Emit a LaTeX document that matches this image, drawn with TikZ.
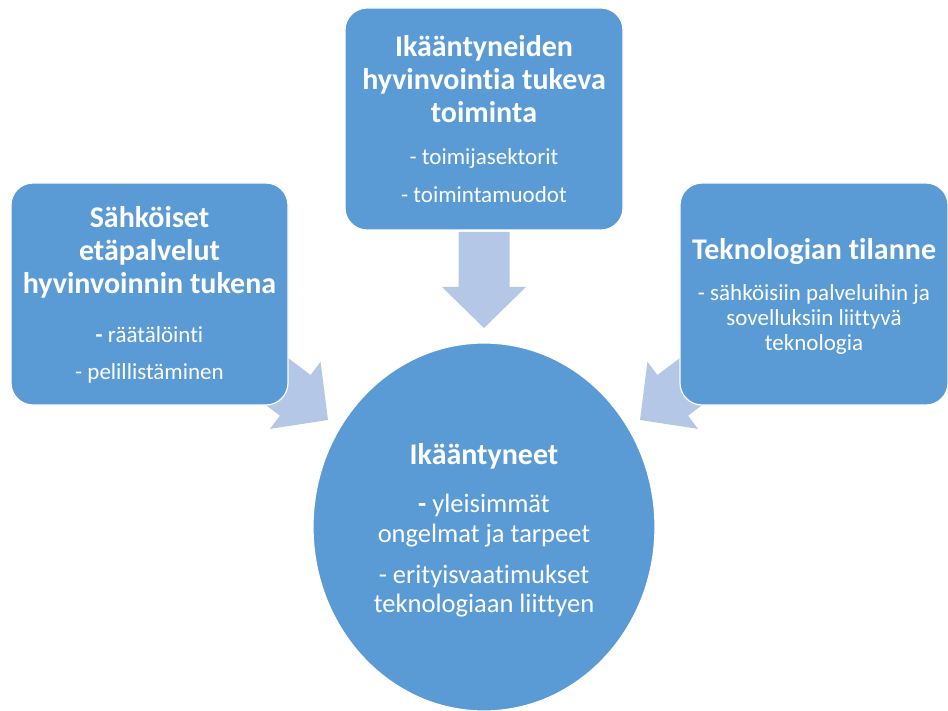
\documentclass[tikz,border=0pt]{standalone}
\usepackage{fontspec}
\setmainfont{Carlito}[Ligatures={CommonOff,ContextualOff,RareOff}, Contextuals={AlternateOff}]
\usetikzlibrary{shapes.geometric}
\definecolor{boxblue}{RGB}{91,155,213}
\definecolor{arrowblue}{RGB}{180,199,231}
\newcommand\blockarr[3]{%
  \begin{scope}[shift={(#1)}, rotate=#2]
    \fill[blockarrow] (0,0) -- (-41,42) -- (-41,25.5) -- (-#3,25.5) -- (-#3,-25.5) -- (-41,-25.5) -- (-41,-42) -- cycle;
  \end{scope}}
\begin{document}
\begin{tikzpicture}[x=1pt,y=-1pt,
  panel/.style={draw=white, line width=1.2pt, fill=boxblue, rounded corners=22pt, inner sep=0},
  blockarrow/.style={fill=arrowblue},
  ttl/.style={anchor=base, text=white, font=\fontsize{30}{33}\selectfont\bfseries, inner sep=0},
  itm/.style={anchor=base, text=white, font=\fontsize{23}{25}\selectfont, inner sep=0},
  citm/.style={anchor=base, text=white, font=\fontsize{26.5}{29}\selectfont, inner sep=0}]
\useasboundingbox (0,0) rectangle (948,711);
\fill[white] (0,0) rectangle (948,711);

% arrows (behind boxes)
\coordinate (tipTop) at (484,328);
\coordinate (tipLeft) at (328,420);
\coordinate (tipRight) at (640,420);
\blockarr{tipTop}{-90}{96}
\blockarr{tipLeft}{-37}{121}
\blockarr{tipRight}{-143}{121}

% boxes
\node[panel, minimum width=278pt, minimum height=222pt] (topbox) at (484,119) {};
\node[panel, minimum width=277pt, minimum height=222pt] (leftbox) at (149.5,294) {};
\node[panel, minimum width=268pt, minimum height=222pt] (rightbox) at (814,294) {};
\node[ellipse, fill=boxblue, draw=white, line width=1.2pt, minimum width=342pt, minimum height=368pt, inner sep=0] (circ) at (484,527) {};

% top box text
\node[ttl] (t1) at (484,57) {Ikääntyneiden};
\node[ttl] (t2) at (484,90) {hyvinvoint\kern0pt ia tukeva};
\node[ttl] (t3) at (484,123) {toimint\kern0pt a};
\node[itm] (t4) at (484,165) {- toimijasektorit};
\node[itm] (t5) at (484,203) {- toimintamuodot};

% left box text
\node[ttl] (l1) at (149.5,228) {Sähköiset};
\node[ttl] (l2) at (149.5,261) {etäpalvelut};
\node[ttl] (l3) at (149.5,294) {hyvinvoinnin tukena};
\node[itm] (l4) at (149.5,343) {\textbf{-} räätälöinti};
\node[itm] (l5) at (149.5,380) {- pelillistäminen};

% right box text
\node[ttl] (r1) at (814,260) {Teknologian tilanne};
\node[itm] (r2) at (814,301) {- sähköisiin palveluihin ja};
\node[itm] (r3) at (814,326) {sovelluksiin liit\kern0pt tyvä};
\node[itm] (r4) at (814,351) {teknologia};

% circle text
\node[ttl] (c1) at (484,464) {Ikääntyneet};
\node[citm] (c2) at (484,512) {\textbf{-} yleisimmät};
\node[citm] (c3) at (484,542) {ongelmat ja tarpeet};
\node[citm] (c4) at (484,583) {- erityisvaat\kern0pt imukset};
\node[citm] (c5) at (484,612) {teknologiaan liit\kern0pt tyen};
\end{tikzpicture}
\end{document}
